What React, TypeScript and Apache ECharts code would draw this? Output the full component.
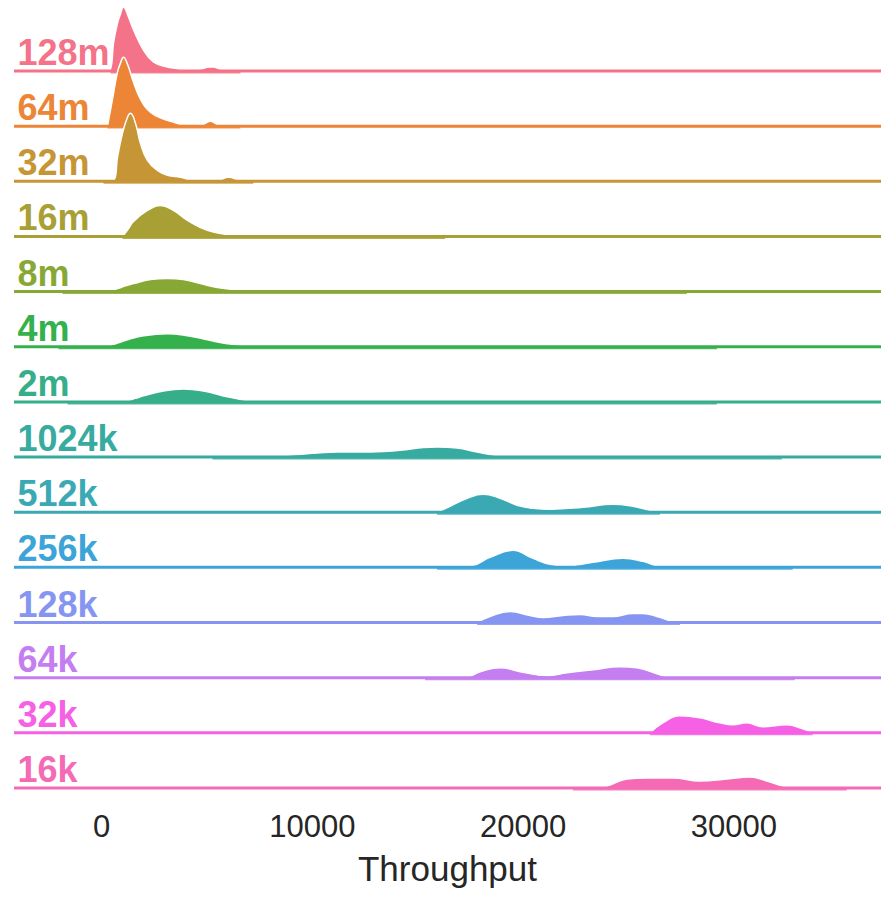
import React, { useEffect, useRef } from "react";
import * as echarts from "echarts";

// Row names, top to bottom
const rowLabels = ["128m", "64m", "32m", "16m", "8m", "4m", "2m", "1024k", "512k", "256k", "128k", "64k", "32k", "16k"];
const rowColors = ["#F47389", "#EC8535", "#C69535", "#A8A035", "#88A835", "#34B04D", "#36AE8A", "#38ABA0", "#3AA9B4", "#3DA4D8", "#8695F2", "#C47EF0", "#F560E4", "#F56AB5"];

// Density curves: [throughput, density height (px-scaled)]
const d128m = [[200, 0], [430, 2], [570, 28], [760, 48], [900, 57], [1040, 64], [1280, 54], [1520, 41], [1990, 21], [2460, 9], [3130, 4], [3410, 3], [4080, 1], [4700, 2], [5100, 4], [5310, 4], [5600, 2], [6000, 0.5], [6590, 0]];
const d64m = [[284, 0], [521, 27], [758, 54], [900, 63], [1043, 69], [1232, 62], [1469, 47], [1848, 27], [2322, 14], [2938, 7], [3412, 4], [3744, 2], [4692, 1], [5166, 5], [5640, 0.5], [6587, 0]];
const d32m = [[95, 0], [569, 1], [758, 24], [995, 48], [1232, 64], [1374, 68], [1611, 58], [1848, 38], [2180, 21], [2654, 11], [3128, 6], [3744, 4], [4360, 1], [5500, 1], [6019, 4], [6587, 1], [7203, 0]];
const d16m = [[995, 0], [1250, 7], [1517, 15], [2180, 26], [2796, 31], [3412, 26], [4076, 16], [4692, 9], [5308, 4.5], [5971, 2], [6587, 1], [9000, 0.3], [12000, 0.2], [16300, 0]];
const d8m = [[-1850, 0], [-500, 0.3], [300, 1], [758, 3], [1100, 5.5], [1517, 8], [2322, 12], [3128, 13], [3886, 12], [4692, 8], [5497, 4], [6256, 2], [7061, 0.5], [9500, 0.3], [12000, 0.3], [15000, 0.3], [18500, 0.5], [20660, 1.5], [22500, 0.5], [25400, 1.5], [27000, 0.3], [27770, 0]];
const d4m = [[-2040, 0], [-800, 0.3], [0, 0.6], [427, 1.5], [800, 4], [1232, 7], [1990, 11], [3128, 13], [4076, 11], [5023, 7], [5971, 3], [6919, 1], [9000, 0.3], [12000, 0.3], [16000, 0.3], [20000, 0.5], [25000, 0.5], [29190, 0]];
const d2m = [[-1610, 0], [-300, 0.3], [700, 0.6], [1232, 1.5], [1600, 3.5], [1990, 6], [2938, 11], [3886, 13], [4834, 11], [5782, 6], [6730, 2], [7677, 0.5], [10000, 0.3], [15000, 0.3], [19000, 0.4], [22500, 1], [26000, 0.8], [29190, 0]];
const d1024k = [[5260, 0], [6500, 0.3], [8000, 0.8], [9290, 2.5], [10240, 4], [11180, 5], [12130, 5], [13360, 5.5], [14310, 7], [15260, 9.5], [15920, 10], [16870, 9], [17820, 5], [18770, 1.5], [19380, 0.5], [22000, 0.3], [25000, 0.3], [28000, 0.4], [30000, 0.5], [32270, 0]];
const d512k = [[15920, 0], [16540, 6], [17350, 14], [18100, 18], [18910, 14], [19710, 7], [20470, 4], [21280, 3], [22840, 5], [24260, 8], [25210, 6], [26020, 2], [26490, 0]];
const d256k = [[15920, 0], [17000, 0.5], [17630, 2], [18430, 10], [19520, 17], [20470, 9], [21280, 3], [22080, 1.5], [23320, 5], [24740, 9], [25690, 6], [26490, 1], [28000, 0.3], [30500, 0.3], [32790, 0]];
const d128k = [[17820, 0], [18430, 6], [19380, 11], [20330, 7], [20950, 5], [21890, 7], [22700, 8], [23510, 6], [24260, 6], [25210, 9], [25690, 9], [26350, 6], [27110, 1], [27440, 0]];
const d64k = [[15350, 0], [16500, 0.4], [17350, 1], [17960, 6], [18910, 10], [19860, 6], [21140, 2], [22080, 5], [23320, 8], [24590, 11], [25400, 10], [26350, 4], [26820, 1], [28000, 0.3], [30000, 0.3], [32000, 0.5], [32890, 0]];
const d32k = [[26020, 0], [26630, 10], [27440, 17], [28390, 15], [29330, 10], [29950, 8], [30610, 10], [31370, 6], [32510, 8], [33270, 4], [33740, 0]];
const d16k = [[22370, 0], [23500, 0.5], [23980, 2], [24930, 9], [25880, 10], [27110, 10], [28390, 7], [29670, 9], [30760, 11], [31560, 7], [32320, 2], [32980, 0.5], [34200, 0.3], [35350, 0]];
const rowDensities = [d128m, d64m, d32m, d16m, d8m, d4m, d2m, d1024k, d512k, d256k, d128k, d64k, d32k, d16k];

// KDE support extents per row
const rowSupport = [[430, 6590], [280, 6590], [95, 7200], [995, 16300], [-1850, 27770], [-2040, 29190], [-1610, 29190], [5260, 32270], [15920, 26490], [15920, 32790], [17820, 27440], [15350, 32890], [26020, 33740], [22370, 35350]];

const xAxisName = "Throughput";
const X_MIN = -4151;
const X_MAX = 36979;
const ROW_PX = 55.15;
const FONT = "'Liberation Sans', Arial, sans-serif";

export default function App() {
  const ref = useRef<HTMLDivElement>(null);
  useEffect(() => {
    if (!ref.current) return;
    const chart = echarts.init(ref.current, null, { renderer: "svg" });
    const n = rowLabels.length;
    const series: any[] = [];
    rowLabels.forEach((name, i) => {
      const offset = n - 1 - i;
      const color = rowColors[i];
      const dens = rowDensities[i];
      series.push({
        type: "line",
        name,
        data: dens.map(([x, h]) => [x, offset + h / ROW_PX]),
        smooth: 0.45,
        showSymbol: false,
        symbol: "none",
        clip: false,
        z: 10 + i * 3,
        lineStyle: { color: "#ffffff", width: 1.5 },
        areaStyle: { color, opacity: 1, origin: offset },
        silent: true,
      });
      series.push({
        type: "line",
        data: [[rowSupport[i][0], offset - 0.025], [rowSupport[i][1], offset - 0.025]],
        showSymbol: false,
        symbol: "none",
        clip: false,
        z: 11 + i * 3,
        lineStyle: { color, width: 2.2, opacity: 0.85 },
        silent: true,
      });
      series.push({
        type: "line",
        data: [[X_MIN, offset], [X_MAX, offset]],
        showSymbol: false,
        symbol: "none",
        clip: false,
        z: 12 + i * 3,
        lineStyle: { color, width: 3 },
        silent: true,
      });
    });
    series.push({
      type: "scatter",
      z: 100,
      symbolSize: 1,
      itemStyle: { color: "rgba(0,0,0,0)" },
      silent: true,
      data: rowLabels.map((name, i) => ({
        name,
        value: [X_MIN, n - 1 - i],
        label: {
          show: true,
          formatter: "{b}",
          position: [4, -18],
          align: "left",
          verticalAlign: "middle",
          color: rowColors[i],
          opacity: 1,
          textBorderWidth: 0,
          textBorderColor: "transparent",
          fontSize: 36,
          fontWeight: "bold",
          fontFamily: FONT,
        },
      })),
    });
    chart.setOption({
      animation: false,
      backgroundColor: "#ffffff",
      grid: { left: 14, right: 0, top: 0, bottom: 99 },
      xAxis: {
        type: "value",
        min: X_MIN,
        max: X_MAX,
        splitNumber: 4,
        axisLine: { show: false },
        axisTick: { show: false },
        splitLine: { show: false },
        axisLabel: {
          show: true,
          showMinLabel: false,
          showMaxLabel: false,
          margin: 12,
          fontSize: 31,
          color: "#262626",
          fontFamily: FONT,
          formatter: (v: number) => (v % 10000 === 0 ? String(v) : ""),
        },
        name: xAxisName,
        nameLocation: "middle",
        nameGap: 52,
        nameTextStyle: { fontSize: 35, color: "#262626", fontFamily: FONT },
      },
      yAxis: { type: "value", min: -0.2, max: 14.287, show: false },
      series,
    });
    return () => chart.dispose();
  }, []);
  return <div ref={ref} style={{ position: "absolute", left: 0, top: 0, width: 881, height: 898 }} />;
}
